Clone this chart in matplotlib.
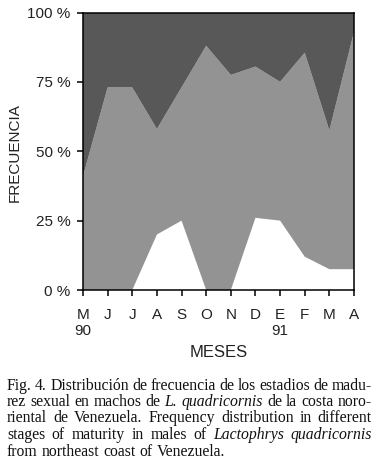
import matplotlib
matplotlib.use('Agg')
import matplotlib.pyplot as plt
import numpy as np

# stage percentages per month (stacked bottom -> top)
months = ['M', 'J', 'J', 'A', 'S', 'O', 'N', 'D', 'E', 'F', 'M', 'A']
years = {0: '90', 8: '91'}
stage1 = [0, 0, 0, 20, 25, 0, 0, 26, 25, 12, 7.5, 7.5]
stage2 = [41, 73, 73, 38, 48, 88, 77.5, 54.5, 50, 73.5, 50, 85.5]
stage3 = [59, 27, 27, 42, 27, 12, 22.5, 19.5, 25, 14.5, 42.5, 7]
yticks = [0, 25, 50, 75, 100]

caption = [
    [('Fig. 4. Distribución de frecuencia de los estadios de madu-', False)],
    [('rez sexual en machos de', False), ('L. quadricornis', True), ('de la costa noro-', False)],
    [('riental de Venezuela. Frequency distribution in different', False)],
    [('stages of maturity in males of', False), ('Lactophrys quadricornis', True)],
    [('from northeast coast of Venezuela.', False)],
]

sans = ['Liberation Sans Narrow', 'Liberation Sans', 'DejaVu Sans']
serif = ['Liberation Serif', 'DejaVu Serif']
W, H = 380, 476

fig = plt.figure(figsize=(W / 100, H / 100), dpi=100)
ax = fig.add_axes([83 / W, 1 - 290 / H, (354 - 83) / W, (290 - 12.5) / H])

x = np.arange(len(months))
ax.stackplot(x, stage1, stage2, stage3,
             colors=['white', '#939393', '#585858'], linewidth=0)
ax.set_xlim(0, len(months) - 1)
ax.set_ylim(0, 100)

ax.set_yticks(yticks)
ax.set_yticklabels([f'{v} %' for v in yticks], family=sans, stretch='condensed',
                   fontsize=11, color='#222')
ax.set_xticks(x)
ax.set_xticklabels([m + ('\n' + years[i] if i in years else '') for i, m in enumerate(months)],
                   family=sans, stretch='condensed', fontsize=11, color='#222', linespacing=1.2)
ax.tick_params(axis='y', direction='out', length=4.5, width=1.1, pad=4.5)
ax.tick_params(axis='x', direction='out', length=4, width=1.1, pad=9)
for s in ax.spines.values():
    s.set_linewidth(1.1)
ax.set_xlabel('MESES', family=sans, stretch='condensed', fontsize=12, color='#222', labelpad=5)
fig.text(15 / W, 1 - 153 / H, 'FRECUENCIA', family=sans, stretch='condensed', fontsize=11,
         color='#222', rotation=90, ha='center', va='center')

# justified caption, placed word by word
renderer = fig.canvas.get_renderer()
fs = 11.3
left, right = 7, 372


def width(s, italic):
    t = fig.text(0, 0, s, family=serif, fontsize=fs, style='italic' if italic else 'normal')
    w = t.get_window_extent(renderer).width
    t.remove()
    return w


space = width('a a', False) - width('aa', False)
for li, line in enumerate(caption):
    words = [(w, it) for chunk, it in line for w in chunk.split(' ')]
    widths = [width(w, it) for w, it in words]
    last = li == len(caption) - 1
    gap = space if last else (right - left - sum(widths)) / (len(words) - 1)
    xpos = left
    ybase = 389.5 + li * 16.5
    for (w, it), wd in zip(words, widths):
        fig.text(xpos / W, 1 - ybase / H, w, family=serif, fontsize=fs,
                 style='italic' if it else 'normal', va='baseline', color='#111')
        xpos += wd + gap

fig.savefig('out.png', dpi=100)
